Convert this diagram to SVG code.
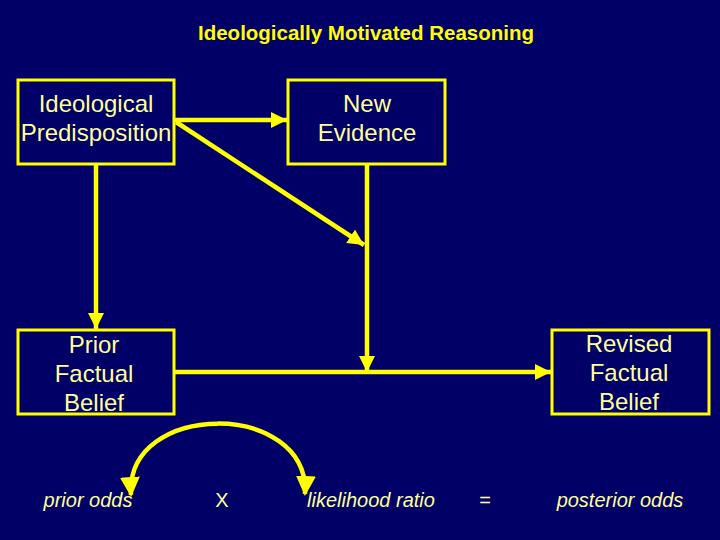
<svg xmlns="http://www.w3.org/2000/svg" width="720" height="540" viewBox="0 0 720 540">
<defs>
<style>
.box{fill:#000066;stroke:#FFFF00;stroke-width:3}
.t{font-family:"Liberation Sans",Arial,sans-serif;font-size:24px;fill:#FFFF99;text-anchor:middle}
.b{font-family:"Liberation Sans",Arial,sans-serif;font-size:20px;fill:#FFFF99;text-anchor:middle}
.i{font-style:italic}
.c{fill:none;stroke:#FFFF00;stroke-width:4.5}
</style>
<marker id="ah" markerUnits="userSpaceOnUse" viewBox="0 0 16 16" refX="16" refY="8" markerWidth="16" markerHeight="16" orient="auto-start-reverse">
<path d="M0,0 L16,8 L0,16 Z" fill="#FFFF00"/>
</marker>
<marker id="ah2" markerUnits="userSpaceOnUse" viewBox="0 0 20 20" refX="18" refY="10" markerWidth="20" markerHeight="20" orient="auto-start-reverse">
<path d="M0,0 L20,10 L0,20 Z" fill="#FFFF00"/>
</marker>
</defs>
<rect width="720" height="540" fill="#000066"/>
<text x="366" y="40" font-family="'Liberation Sans',Arial,sans-serif" font-weight="bold" font-size="20.5" fill="#FFFF00" text-anchor="middle">Ideologically Motivated Reasoning</text>
<g id="connectors">
<line class="c" x1="174" y1="120" x2="287" y2="120" marker-end="url(#ah)"/>
<line class="c" x1="176" y1="122" x2="364" y2="245" marker-end="url(#ah)"/>
<line class="c" x1="367" y1="164" x2="367" y2="372" marker-end="url(#ah)"/>
<line class="c" x1="96" y1="164" x2="96" y2="329" marker-end="url(#ah)"/>
<line class="c" x1="174" y1="372" x2="551" y2="372" marker-end="url(#ah)"/>
<path class="c" d="M131,495 C125,400 310,400 305,494" marker-start="url(#ah2)" marker-end="url(#ah2)"/>
</g>
<g id="ideological">
<rect class="box" x="18" y="80" width="156" height="84"/>
<text class="t" x="96" y="112">Ideological</text>
<text class="t" x="96" y="141">Predisposition</text>
</g>
<g id="evidence">
<rect class="box" x="288" y="80" width="157" height="84"/>
<text class="t" x="367" y="112">New</text>
<text class="t" x="367" y="141">Evidence</text>
</g>
<g id="prior">
<rect class="box" x="18" y="330" width="156" height="84"/>
<text class="t" x="94" y="353">Prior</text>
<text class="t" x="94" y="382">Factual</text>
<text class="t" x="94" y="411">Belief</text>
</g>
<g id="revised">
<rect class="box" x="552" y="330" width="157" height="84"/>
<text class="t" x="629" y="352">Revised</text>
<text class="t" x="629" y="381">Factual</text>
<text class="t" x="629" y="410">Belief</text>
</g>
<g id="formula">
<text class="b i" x="88" y="507">prior odds</text>
<text class="b" x="222" y="507">X</text>
<text class="b i" x="371" y="507">likelihood ratio</text>
<text class="b" x="485" y="507">=</text>
<text class="b i" x="620" y="507">posterior odds</text>
</g>
</svg>
